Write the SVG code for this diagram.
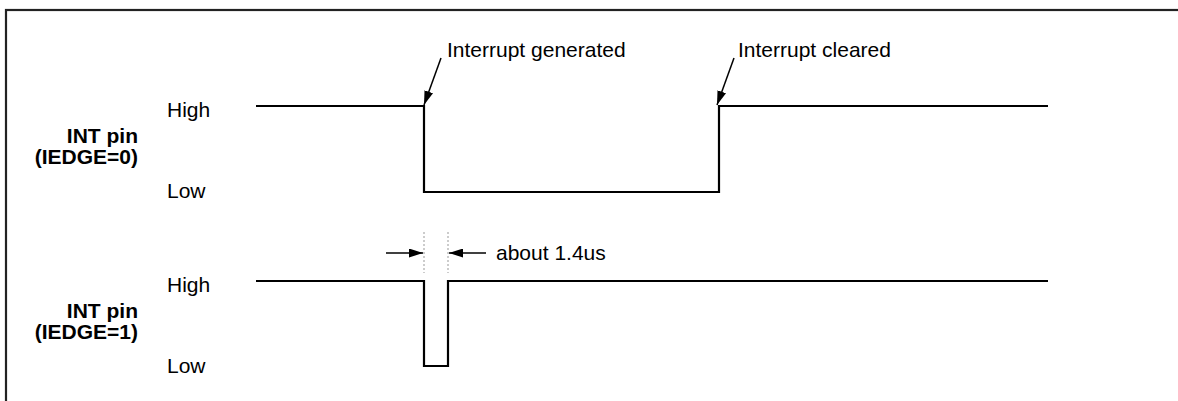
<svg xmlns="http://www.w3.org/2000/svg" width="1178" height="401" viewBox="0 0 1178 401">
  <style>
    .lbl { font-family: "Liberation Sans", Arial, sans-serif; font-size: 21px; fill: #000; }
    .sig { font-family: "Liberation Sans", Arial, sans-serif; font-size: 21px; font-weight: bold; fill: #000; text-anchor: end; }
    .wave { fill: none; stroke: #000; stroke-width: 2.2; stroke-linejoin: miter; }
    .lead { stroke: #000; stroke-width: 1.5; fill: none; }
    .guide { stroke: #999; stroke-width: 1; stroke-dasharray: 2 2; }
  </style>
  <defs>
    <marker id="ah" viewBox="0 0 14 9" refX="14" refY="4.5" markerWidth="14" markerHeight="9" markerUnits="userSpaceOnUse" orient="auto">
      <path d="M0,0 L14,4.5 L0,9 Z" fill="#000"/>
    </marker>
  </defs>
  <rect x="0" y="0" width="1178" height="401" fill="#fff"/>
  <!-- frame (open on right and bottom) -->
  <rect x="6" y="10" width="1200" height="420" fill="none" stroke="#222" stroke-width="2.2"/>

  <!-- upper trace: level-triggered, IEDGE=0 -->
  <g id="trace-iedge0">
    <text class="lbl" x="167" y="117">High</text>
    <text class="lbl" x="167" y="198">Low</text>
    <text class="sig" x="138" y="143">INT pin</text>
    <text class="sig" x="138" y="164">(IEDGE=0)</text>
    <path class="wave" d="M256,106 H424 V192 H719 V106 H1048"/>
  </g>

  <!-- lower trace: pulse, IEDGE=1 -->
  <g id="trace-iedge1">
    <text class="lbl" x="167" y="292">High</text>
    <text class="lbl" x="167" y="373">Low</text>
    <text class="sig" x="138" y="318">INT pin</text>
    <text class="sig" x="138" y="339">(IEDGE=1)</text>
    <path class="wave" d="M256,281 H424 V366 H448 V281 H1048"/>
  </g>

  <g id="note-generated">
    <text class="lbl" x="447" y="57">Interrupt generated</text>
  </g>
  <g id="note-cleared">
    <text class="lbl" x="738" y="57">Interrupt cleared</text>
  </g>
  <g id="note-width">
    <text class="lbl" x="496" y="260">about 1.4us</text>
  </g>

  <g id="connectors">
    <line class="lead" x1="441" y1="58" x2="424" y2="105" marker-end="url(#ah)"/>
    <line class="lead" x1="734" y1="58" x2="717" y2="105" marker-end="url(#ah)"/>
    <line class="guide" x1="424" y1="232" x2="424" y2="273"/>
    <line class="guide" x1="448" y1="232" x2="448" y2="273"/>
    <line class="lead" x1="386" y1="253" x2="423" y2="253" marker-end="url(#ah)"/>
    <line class="lead" x1="486" y1="253" x2="449" y2="253" marker-end="url(#ah)"/>
  </g>
</svg>
